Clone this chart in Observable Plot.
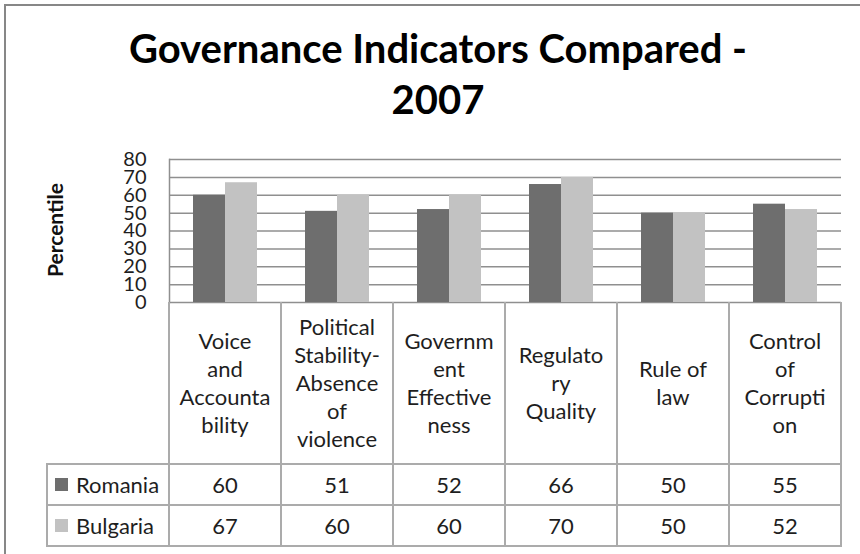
<!DOCTYPE html>
<html>
<head>
<meta charset="utf-8">
<script src="https://cdn.jsdelivr.net/npm/d3@7"></script>
<script src="https://cdn.jsdelivr.net/npm/@observablehq/plot@0.6"></script>
<style>
  html, body { margin: 0; padding: 0; background: #fff; }
  body { width: 860px; height: 554px; overflow: hidden; position: relative; font-family: Lato, "Open Sans", sans-serif; }
  #frame { position: absolute; left: 4px; top: 4px; width: 900px; height: 620px; border: 2px solid #878787; box-sizing: border-box; }
  #title { position: absolute; left: 0; width: 876px; top: 23px; text-align: center; font-weight: 700; font-size: 40px; line-height: 51px; color: #000; }
  #ylabel { position: absolute; left: 54px; top: 230px; transform: translate(-50%, -50%) rotate(-90deg); font-weight: 700; font-size: 21px; color: #111; white-space: nowrap; }
  #chart { position: absolute; left: 0; top: 140px; }
  .vline { position: absolute; width: 2px; background: #ababab; }
  .hline { position: absolute; height: 2px; background: #ababab; }
  .cell { position: absolute; display: flex; align-items: center; justify-content: center; text-align: center; font-size: 22px; line-height: 28px; color: #1e1e1e; }
  .legend { position: absolute; display: flex; align-items: center; font-size: 22px; color: #1e1e1e; }
  .swatch { width: 13px; height: 13px; margin-right: 8px; }
</style>
</head>
<body>
<div id="frame"></div>
<div id="title">Governance Indicators Compared -<br>2007</div>
<div id="ylabel">Percentile</div>
<div id="chart"></div>
<script>
const categories = [
  "Voice and Accountability",
  "Political Stability-Absence of violence",
  "Government Effectiveness",
  "Regulatory Quality",
  "Rule of law",
  "Control of Corruption"
];
const categoryLines = [
  ["Voice", "and", "Accounta", "bility"],
  ["Political", "Stability-", "Absence", "of", "violence"],
  ["Governm", "ent", "Effective", "ness"],
  ["Regulato", "ry", "Quality"],
  ["Rule of", "law"],
  ["Control", "of", "Corrupti", "on"]
];
const seriesNames = ["Romania", "Bulgaria"];
const romania = [60, 51, 52, 66, 50, 55];
const bulgaria = [67, 60, 60, 70, 50, 52];
const yTicks = [0, 10, 20, 30, 40, 50, 60, 70, 80];
const seriesColors = ["#6e6e6e", "#c2c2c2"];

const seriesValues = [romania, bulgaria];
const data = categories.flatMap((c, i) =>
  seriesNames.map((s, j) => ({category: c, series: s, value: seriesValues[j][i]}))
);

const plot = Plot.plot({
  width: 860,
  height: 175,
  marginTop: 19,
  marginBottom: 13,
  marginLeft: 168,
  marginRight: 18,
  style: {fontFamily: "Lato, sans-serif", fontSize: "20px", color: "#1e1e1e", background: "transparent", overflow: "visible"},
  fx: {domain: categories, padding: 0, axis: null},
  x: {domain: seriesNames, paddingInner: 0, paddingOuter: 0.75, axis: null},
  y: {domain: [0, 80], ticks: yTicks, tickSize: 0, tickPadding: 23, label: null},
  color: {domain: seriesNames, range: seriesColors},
  marks: [
    Plot.gridY(yTicks, {stroke: "#8f8f8f", strokeOpacity: 1, strokeWidth: 1.5}),
    Plot.frame({anchor: "left", facetAnchor: "left", stroke: "#8f8f8f", strokeWidth: 1.5}),
    Plot.barY(data, {fx: "category", x: "series", y: "value", fill: "series"})
  ]
});
document.getElementById("chart").appendChild(plot);

// Data table aligned with the facet scale
const fx = plot.scale("fx");
const bw = fx.bandwidth;
const plotBottom = 140 + 175 - 13;
const headerH = 162, rowH = 41;
const legendLeft = 47;
const colX = categories.map(c => fx.apply(c));
const rightX = colX[colX.length - 1] + bw;
const body = d3.select("body");

[...colX, rightX].forEach(x => {
  body.append("div").attr("class", "vline")
    .style("left", (x - 1) + "px").style("top", plotBottom + "px")
    .style("height", (headerH + 2 * rowH + 1) + "px");
});
body.append("div").attr("class", "vline")
  .style("left", (legendLeft - 1) + "px").style("top", (plotBottom + headerH - 1) + "px")
  .style("height", (2 * rowH + 2) + "px");
[0, 1, 2].forEach(k => {
  body.append("div").attr("class", "hline")
    .style("left", (legendLeft - 1) + "px").style("top", (plotBottom + headerH + k * rowH - 1) + "px")
    .style("width", (rightX - legendLeft + 2) + "px");
});

categories.forEach((c, i) => {
  body.append("div").attr("class", "cell")
    .style("left", colX[i] + "px").style("top", plotBottom + "px")
    .style("width", bw + "px").style("height", headerH + "px")
    .html(categoryLines[i].join("<br>"));
  seriesNames.forEach((s, j) => {
    body.append("div").attr("class", "cell")
      .style("left", colX[i] + "px").style("top", (plotBottom + headerH + j * rowH) + "px")
      .style("width", bw + "px").style("height", rowH + "px")
      .text(seriesValues[j][i]);
  });
});
seriesNames.forEach((s, j) => {
  const lg = body.append("div").attr("class", "legend")
    .style("left", (legendLeft + 8) + "px").style("top", (plotBottom + headerH + j * rowH) + "px")
    .style("height", rowH + "px");
  lg.append("div").attr("class", "swatch").style("background", seriesColors[j]);
  lg.append("span").text(s);
});
</script>
</body>
</html>
